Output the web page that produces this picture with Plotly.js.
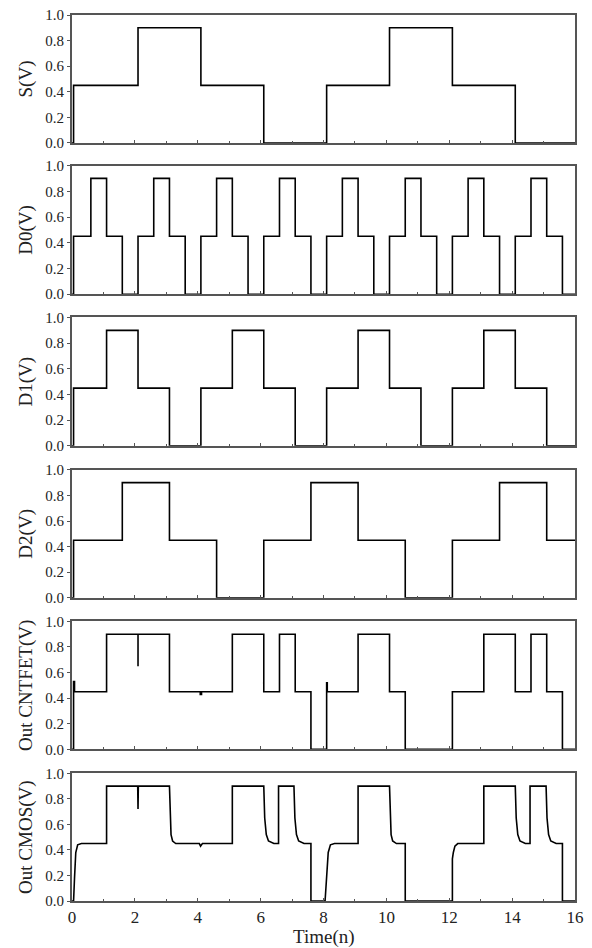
<!DOCTYPE html>
<html>
<head>
<meta charset="utf-8">
<script src="https://cdn.plot.ly/plotly-3.0.1.min.js"></script>
<style>html,body{margin:0;padding:0;background:#fff;}#chart{width:592px;height:948px;}</style>
</head>
<body>
<div id="chart"></div>
<script>
// ---- data (time in n, voltage in V) ----
const sT = [0, 0.05, 2.1, 4.1, 6.1, 8.1, 10.1, 12.1, 14.1, 16];
const sV = [0, 0.45, 0.9, 0.45, 0, 0.45, 0.9, 0.45, 0, 0];

const d0T = [0, 0.05, 0.6, 1.1, 1.6, 2.1, 2.6, 3.1, 3.6, 4.1, 4.6, 5.1, 5.6, 6.1, 6.6, 7.1, 7.6,
             8.1, 8.6, 9.1, 9.6, 10.1, 10.6, 11.1, 11.6, 12.1, 12.6, 13.1, 13.6, 14.1, 14.6, 15.1, 15.6, 16];
const d0V = [0, 0.45, 0.9, 0.45, 0, 0.45, 0.9, 0.45, 0, 0.45, 0.9, 0.45, 0, 0.45, 0.9, 0.45, 0,
             0.45, 0.9, 0.45, 0, 0.45, 0.9, 0.45, 0, 0.45, 0.9, 0.45, 0, 0.45, 0.9, 0.45, 0, 0];

const d1T = [0, 0.05, 1.1, 2.1, 3.1, 4.1, 5.1, 6.1, 7.1, 8.1, 9.1, 10.1, 11.1, 12.1, 13.1, 14.1, 15.1, 16];
const d1V = [0, 0.45, 0.9, 0.45, 0, 0.45, 0.9, 0.45, 0, 0.45, 0.9, 0.45, 0, 0.45, 0.9, 0.45, 0, 0];

const d2T = [0, 0.05, 1.6, 3.1, 4.6, 6.1, 7.6, 9.1, 10.6, 12.1, 13.6, 15.1, 16];
const d2V = [0, 0.45, 0.9, 0.45, 0, 0.45, 0.9, 0.45, 0, 0.45, 0.9, 0.45, 0.45];

const cntT = [0, 0.05, 0.08, 1.1, 2.1, 2.1, 3.1, 4.08, 4.12, 5.1, 6.1, 6.6, 7.1, 7.6, 8.1, 8.12,
              9.1, 10.1, 10.6, 12.1, 13.1, 14.1, 14.6, 15.1, 15.6, 16];
const cntV = [0, 0.53, 0.45, 0.9, 0.65, 0.9, 0.45, 0.43, 0.45, 0.9, 0.45, 0.9, 0.45, 0, 0.52, 0.45,
              0.9, 0.45, 0, 0.45, 0.9, 0.45, 0.9, 0.45, 0, 0];

const cmosT = [0, 0.05, 0.08, 0.12, 0.18, 0.3,
               1.1, 1.1,
               2.09, 2.1, 2.11,
               3.1, 3.12, 3.15, 3.2, 3.3,
               4.05, 4.09, 4.12, 4.15,
               5.1, 5.1,
               6.1, 6.13, 6.18, 6.25, 6.42,
               6.57, 6.57,
               7.06, 7.09, 7.14, 7.21, 7.38,
               7.6, 7.6,
               8.05, 8.15, 8.22, 8.35,
               9.1, 9.1,
               10.1, 10.12, 10.15, 10.2, 10.32,
               10.6, 10.6,
               12.1, 12.1, 12.13, 12.18, 12.27,
               13.1, 13.1,
               14.1, 14.13, 14.18, 14.25, 14.42,
               14.57, 14.57,
               15.08, 15.11, 15.16, 15.23, 15.4,
               15.6, 15.6, 16];
const cmosV = [0, 0, 0.18, 0.38, 0.44, 0.45,
               0.45, 0.9,
               0.9, 0.72, 0.9,
               0.9, 0.62, 0.52, 0.47, 0.45,
               0.45, 0.43, 0.44, 0.45,
               0.45, 0.9,
               0.9, 0.65, 0.52, 0.47, 0.45,
               0.45, 0.9,
               0.9, 0.65, 0.52, 0.47, 0.45,
               0.45, 0,
               0, 0.38, 0.44, 0.45,
               0.45, 0.9,
               0.9, 0.62, 0.52, 0.47, 0.45,
               0.45, 0,
               0, 0.33, 0.38, 0.43, 0.45,
               0.45, 0.9,
               0.9, 0.65, 0.52, 0.47, 0.45,
               0.45, 0.9,
               0.9, 0.65, 0.52, 0.47, 0.45,
               0.45, 0, 0];

const yTitles = ['S(V)', 'D0(V)', 'D1(V)', 'D2(V)', 'Out CNTFET(V)', 'Out CMOS(V)'];
const xTitle = 'Time(n)';
const xTickVals = [0, 2, 4, 6, 8, 10, 12, 14, 16];
const yTickVals = [0, 0.2, 0.4, 0.6, 0.8, 1.0];

// ---- build ----
const series = [
  {t: sT, v: sV, shape: 'hv'},
  {t: d0T, v: d0V, shape: 'hv'},
  {t: d1T, v: d1V, shape: 'hv'},
  {t: d2T, v: d2V, shape: 'hv'},
  {t: cntT, v: cntV, shape: 'hv'},
  {t: cmosT, v: cmosV, shape: 'linear'}
];

// panel pixel extents (top, bottom) in the 948px figure
const panelPx = [[14.7, 142.7], [165.3, 294], [317.3, 445.7], [469.7, 597.7], [621.3, 749.3], [773.3, 901]];
const M = {l: 72, r: 17, t: 14.7, b: 47};
const H = 948 - M.t - M.b;

const font = 'Liberation Serif, Times New Roman, serif';
const frameColor = '#555';
const traces = [];
const layout = {
  width: 592, height: 948,
  margin: M,
  paper_bgcolor: '#fff', plot_bgcolor: '#fff',
  showlegend: false,
  font: {family: font, color: '#222'},
  annotations: [{
    text: xTitle, xref: 'paper', yref: 'paper', x: 0.5, y: 0,
    xanchor: 'center', yanchor: 'bottom', yshift: -49, showarrow: false,
    font: {family: font, size: 19, color: '#222'}
  }]
};

series.forEach((s, i) => {
  const n = i + 1;
  const xa = 'x' + (n === 1 ? '' : n);
  const ya = 'y' + (n === 1 ? '' : n);
  traces.push({
    x: s.t, y: s.v, type: 'scatter', mode: 'lines',
    line: {color: '#000', width: 1.6, shape: s.shape},
    xaxis: xa, yaxis: ya, hoverinfo: 'skip'
  });
  const top = panelPx[i][0], bot = panelPx[i][1];
  const dom = [Math.max(0, (948 - M.b - bot) / H), Math.min(1, (948 - M.b - top) / H)];
  const isLast = (i === series.length - 1);
  layout['xaxis' + (n === 1 ? '' : n)] = {
    domain: [0, 1], anchor: ya, range: [0, 16],
    tickvals: xTickVals, ticktext: xTickVals.map(String),
    showticklabels: isLast,
    ticks: 'inside', ticklen: 3, tickwidth: 1, tickcolor: frameColor,
    minor: {dtick: 1, ticks: 'inside', ticklen: 2, tickcolor: frameColor},
    showline: true, mirror: true, linecolor: frameColor, linewidth: 2,
    showgrid: false, zeroline: false,
    tickfont: {family: font, size: 17, color: '#222'}
  };
  layout['yaxis' + (n === 1 ? '' : n)] = {
    domain: dom, anchor: xa, range: [0, 1],
    tickvals: yTickVals, ticktext: yTickVals.map(v => v.toFixed(1)),
    ticks: 'outside', ticklen: 3, tickwidth: 1, tickcolor: frameColor,
    showline: true, mirror: true, linecolor: frameColor, linewidth: 2,
    showgrid: false, zeroline: false,
    tickfont: {family: font, size: 15, color: '#222'},
    title: {text: yTitles[i], font: {family: font, size: 19, color: '#222'}, standoff: 8}
  };
});

Plotly.newPlot('chart', traces, layout, {staticPlot: true, displayModeBar: false});
</script>
</body>
</html>
